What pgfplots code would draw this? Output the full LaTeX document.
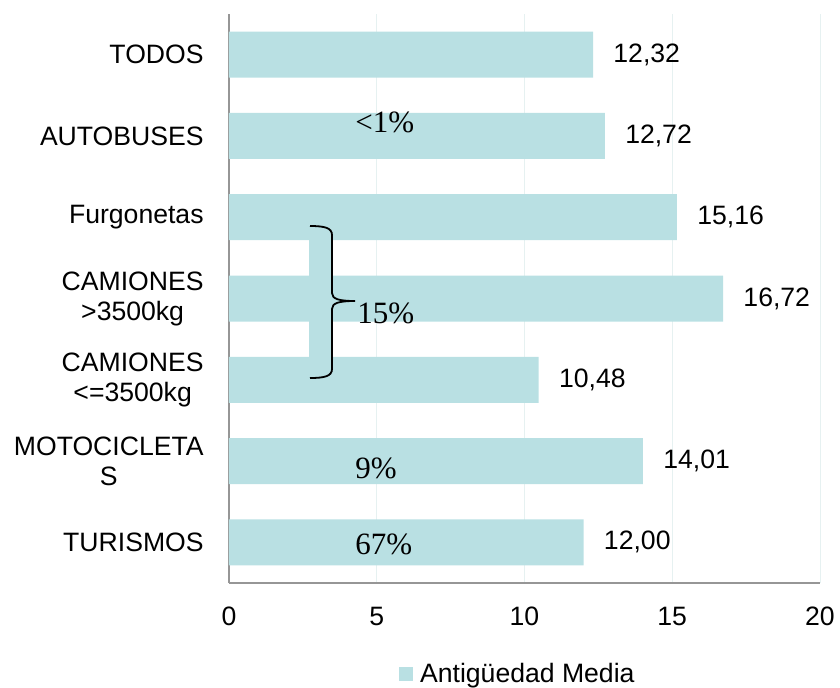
\documentclass[border=0pt]{standalone}
\usepackage{pgfplots}
\pgfplotsset{compat=1.18}
\usepackage{pgfplotstable}
\usepackage{fontspec}
\setmainfont{Liberation Sans}
\newfontfamily\timesf{Liberation Serif}
\definecolor{barc}{RGB}{185,224,227}
\definecolor{gridc}{RGB}{230,241,241}
\definecolor{axc}{RGB}{150,150,150}
\newcommand\lbl{\fontsize{13.3}{15}\selectfont}
\newcommand\ann{\timesf\fontsize{15.5}{17}\selectfont}
\pgfplotstableread{
y val lab
0 12.00 12,00
1 14.01 14,01
2 10.48 10,48
3 16.72 16,72
4 15.16 15,16
5 12.72 12,72
6 12.32 12,32
}\datatab
\begin{document}
\begin{tikzpicture}
\path[use as bounding box] (-114.5pt,-52pt) rectangle (305.5pt,291.5pt);
\begin{axis}[
  at={(0,0)}, anchor=south west, scale only axis,
  width=295.5pt, height=284.5pt,
  xbar, bar width=0.566,
  xmin=0, xmax=20, ymin=-0.5, ymax=6.5,
  xtick={0,5,10,15,20}, ytick={0,...,6},
  yticklabels={TURISMOS,MOTOCICLETA\\S,CAMIONES\\<=3500kg,CAMIONES\\>3500kg,Furgonetas,AUTOBUSES,TODOS},
  axis x line*=bottom, axis y line*=left,
  axis line style={axc, line width=0.75pt, -},
  major tick length=0pt,
  xmajorgrids, major grid style={gridc, line width=0.5pt},
  xticklabel style={font=\lbl, anchor=north, inner sep=0pt, yshift=-12pt},
  yticklabel style={font=\lbl, align=center, anchor=east, inner sep=0pt, xshift=-12.5pt},
  /pgf/number format/assume math mode=true,
  nodes near coords, point meta=explicit symbolic,
  nodes near coords style={font=\lbl, anchor=west, inner sep=0pt, xshift=10pt, text=black},
  legend style={at={(0.487,-0.16)}, anchor=center, draw=none, fill=none, font=\lbl, inner sep=0pt,
    nodes={inner sep=0pt}, /tikz/every odd column/.append style={column sep=3.5pt}},
  legend image code/.code={\fill[barc] (0pt,-3.5pt) rectangle (7pt,3.5pt);},
  clip=false,
]
\addplot[fill=barc, draw=none] table[x=val, y=y, meta=lab] {\datatab};
\addlegendentry{Antigüedad Media}
\end{axis}
\fill[barc] (40pt,102.5pt) rectangle (51.5pt,178.5pt);
\draw[black, line width=0.9pt] (40.5pt,178.5pt) .. controls (48pt,178.5pt) and (51.5pt,177.5pt) .. (51.5pt,174pt)
  -- (51.5pt,145pt) .. controls (51.5pt,142pt) and (55pt,141pt) .. (63pt,141pt)
  .. controls (55pt,141pt) and (51.5pt,140pt) .. (51.5pt,137pt)
  -- (51.5pt,107pt) .. controls (51.5pt,103.5pt) and (48pt,102.5pt) .. (40.5pt,102.5pt);
\node[anchor=base west, inner sep=0pt, font=\ann] at (63pt,225.5pt) {<1\%};
\node[anchor=base west, inner sep=0pt, font=\ann] at (64pt,130pt) {15\%};
\node[anchor=base west, inner sep=0pt, font=\ann] at (63pt,52.5pt) {9\%};
\node[anchor=base west, inner sep=0pt, font=\ann] at (63pt,14.5pt) {67\%};
\end{tikzpicture}
\end{document}
